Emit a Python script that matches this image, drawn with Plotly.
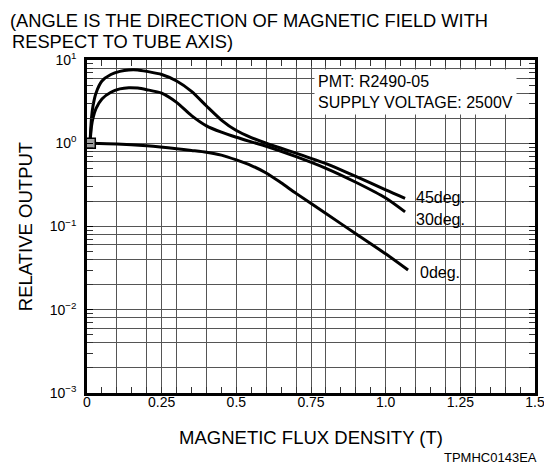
import plotly.graph_objects as go

# ---- data ----
x_45 = [0.01, 0.015, 0.02, 0.03, 0.05, 0.08, 0.11, 0.14, 0.17, 0.2, 0.25, 0.3, 0.35, 0.4,
        0.45, 0.5, 0.55, 0.6, 0.65, 0.7, 0.8, 0.9, 1.0, 1.065]
y_45 = [1.0, 2.0, 2.8, 4.0, 5.6, 6.7, 7.3, 7.6, 7.6, 7.3, 6.7, 5.6, 4.2, 2.8,
        1.9, 1.42, 1.17, 1.0, 0.87, 0.76, 0.57, 0.40, 0.275, 0.218]

x_30 = [0.01, 0.015, 0.02, 0.03, 0.05, 0.08, 0.11, 0.14, 0.17, 0.2, 0.25, 0.3, 0.35, 0.4,
        0.45, 0.5, 0.55, 0.6, 0.7, 0.8, 0.9, 1.0, 1.065]
y_30 = [1.0, 1.6, 2.0, 2.6, 3.4, 4.1, 4.5, 4.65, 4.6, 4.4, 4.0, 3.1, 2.15, 1.62,
        1.36, 1.18, 1.04, 0.92, 0.69, 0.5, 0.34, 0.22, 0.15]

x_0 = [0.01, 0.1, 0.2, 0.3, 0.35, 0.4, 0.45, 0.5, 0.55, 0.6, 0.65, 0.7, 0.8, 0.9, 1.0, 1.075]
y_0 = [1.0, 0.98, 0.93, 0.86, 0.82, 0.78, 0.72, 0.63, 0.54, 0.44, 0.335, 0.25, 0.143, 0.082,
       0.047, 0.030]

ref_x = [0.011]
ref_y = [1.0]

series_names = ["45deg.", "30deg.", "0deg."]
label_x = [1.095, 1.095, 1.109]
label_logy = [-0.646, -0.91, -1.547]

x_tickvals = [0, 0.25, 0.5, 0.75, 1.0, 1.25, 1.5]
x_ticktext = ["0", "0.25", "0.5", "0.75", "1.0", "1.25", "1.5"]
x_grid_fine = [round(0.1 * i, 2) for i in range(1, 15)]
x_minor = [round(0.05 * i, 2) for i in range(1, 30)]

y_tickvals = [1e-3, 1e-2, 1e-1, 1e0, 1e1]
y_ticktext = ["10<sup>\u22123</sup>", "10<sup>\u22122</sup>", "10<sup>\u22121</sup>",
              "10<sup>0</sup>", "10<sup>1</sup>"]
decades = [1e-3, 1e-2, 1e-1, 1e0]
y_grid_fine = [m * d for d in decades for m in (2, 4, 6, 8)]
y_minor = [m * d for d in decades for m in range(2, 10)]

FONT = "Liberation Sans, Arial, Helvetica, sans-serif"
GRID = "#555555"

fig = go.Figure()
line_style = dict(color="black", width=3, shape="spline", smoothing=0.7)
for xs, ys, nm in [(x_45, y_45, series_names[0]), (x_30, y_30, series_names[1]), (x_0, y_0, series_names[2])]:
    fig.add_trace(go.Scatter(x=xs, y=ys, mode="lines", line=line_style, name=nm,
                             xaxis="x2", yaxis="y2", showlegend=False, hoverinfo="skip"))
fig.add_trace(go.Scatter(x=ref_x, y=ref_y, mode="markers", xaxis="x2", yaxis="y2",
                         marker=dict(symbol="square", size=10, color="#a0a0a0",
                                     line=dict(color="black", width=1.5)),
                         showlegend=False, hoverinfo="skip"))
# invisible helper traces so every overlay axis is drawn
fig.add_trace(go.Scatter(x=[0], y=[1], mode="markers", marker=dict(opacity=0), xaxis="x", yaxis="y",
                         showlegend=False, hoverinfo="skip"))
fig.add_trace(go.Scatter(x=[0], y=[1], mode="markers", marker=dict(opacity=0), xaxis="x3", yaxis="y3",
                         showlegend=False, hoverinfo="skip"))

common = dict(zeroline=False, automargin=False)
fig.update_layout(
    width=544, height=467,
    margin=dict(l=79, r=17, t=52, b=82),
    paper_bgcolor="white", plot_bgcolor="white",
    font=dict(family=FONT, color="black"),
    # fine grid
    xaxis=dict(range=[0, 1.5], tickvals=x_grid_fine, showticklabels=False, ticks="",
               showgrid=True, gridcolor=GRID, gridwidth=1, showline=False, **common),
    yaxis=dict(type="log", range=[-3, 1], tickvals=y_grid_fine, showticklabels=False, ticks="",
               showgrid=True, gridcolor=GRID, gridwidth=1, showline=False, **common),
    # labelled axes
    xaxis2=dict(overlaying="x", anchor="y2", range=[0, 1.5],
                tickvals=x_tickvals, ticktext=x_ticktext, ticklabelstandoff=-6,
                tickfont=dict(size=14), ticks="inside", ticklen=6, tickwidth=1, tickcolor="black",
                showgrid=True, gridcolor=GRID, gridwidth=1,
                showline=True, linecolor="black", linewidth=2.5, mirror="allticks",
                title=dict(text="MAGNETIC FLUX DENSITY (T)", font=dict(size=18.5), standoff=23),
                **common),
    yaxis2=dict(overlaying="y", anchor="x2", type="log", range=[-3, 1],
                tickvals=y_tickvals, ticktext=y_ticktext, ticklabelstandoff=5,
                tickfont=dict(size=14), ticks="inside", ticklen=6, tickwidth=1, tickcolor="black",
                showgrid=True, gridcolor=GRID, gridwidth=1,
                showline=True, linecolor="black", linewidth=2.5, mirror="allticks",
                title=dict(text="RELATIVE OUTPUT", font=dict(size=18.5), standoff=13),
                **common),
    # small tick marks
    xaxis3=dict(overlaying="x", anchor="y3", range=[0, 1.5], tickvals=x_minor,
                showticklabels=False, ticks="inside", ticklen=6, tickwidth=1, tickcolor="#333",
                showgrid=False, showline=False, mirror="allticks", **common),
    yaxis3=dict(overlaying="y", anchor="x3", type="log", range=[-3, 1], tickvals=y_minor,
                showticklabels=False, ticks="inside", ticklen=6, tickwidth=1, tickcolor="#333",
                showgrid=False, showline=False, mirror="allticks", **common),
)

annotations = [
    dict(text="(ANGLE IS THE DIRECTION OF MAGNETIC FIELD WITH", xref="paper", yref="paper",
         x=(8 - 87) / 448, y=(393 - 20) / 333, xanchor="left", yanchor="middle",
         showarrow=False, font=dict(size=18.3)),
    dict(text="RESPECT TO TUBE AXIS)", xref="paper", yref="paper",
         x=(10 - 87) / 448, y=(393 - 41) / 333, xanchor="left", yanchor="middle",
         showarrow=False, font=dict(size=18.3)),
    dict(text="PMT: R2490-05<br>SUPPLY VOLTAGE: 2500V", xref="paper", yref="paper",
         x=(314 - 87) / 448, y=(393 - 92) / 333, xanchor="left", yanchor="middle", align="left",
         showarrow=False, font=dict(size=16), bgcolor="white", borderpad=3),
    dict(text="TPMHC0143EA", xref="paper", yref="paper",
         x=(539 - 87) / 448, y=(393 - 457) / 333, xanchor="right", yanchor="middle",
         showarrow=False, font=dict(size=13)),
]
for nm, lx, ly in zip(series_names, label_x, label_logy):
    annotations.append(dict(text=nm, xref="x2", yref="y2", x=lx, y=ly, xanchor="left",
                            yanchor="middle", showarrow=False, font=dict(size=16)))
fig.update_layout(annotations=annotations)

fig.write_html("out.html")
